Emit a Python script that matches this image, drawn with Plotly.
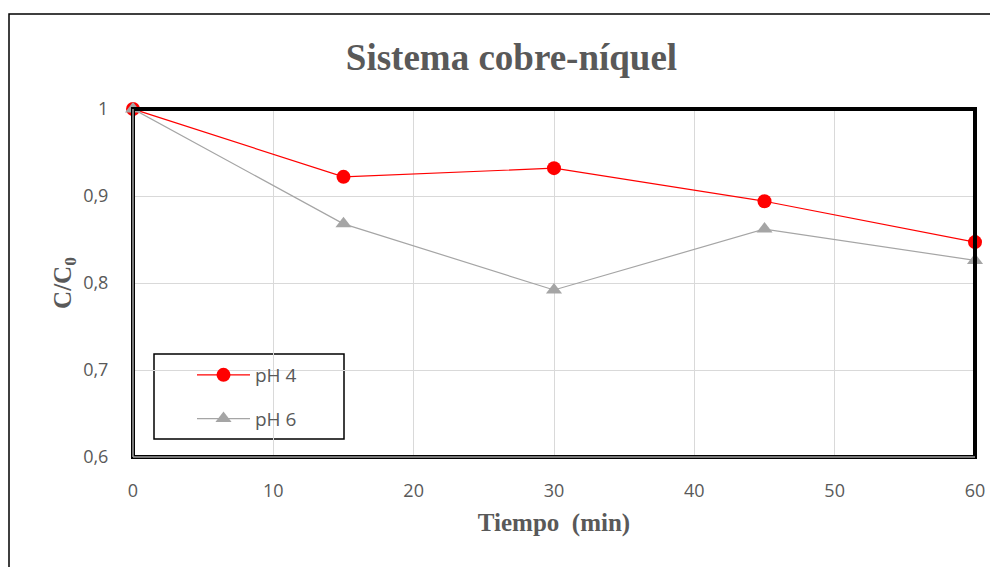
import plotly.graph_objects as go

time_min = [0, 15, 30, 45, 60]
ph4_values = [1.0, 0.922, 0.932, 0.894, 0.847]
ph6_values = [1.0, 0.868, 0.792, 0.862, 0.826]
series_names = ["pH 4", "pH 6"]
x_ticks = [0, 10, 20, 30, 40, 50, 60]
y_ticks = [0.6, 0.7, 0.8, 0.9, 1.0]
y_tick_labels = ["0,6", "0,7", "0,8", "0,9", "1"]

GREY_TXT = "#595959"
SANS = "Open Sans, Liberation Sans, sans-serif"
TICK_FONT = dict(family=SANS, size=18, color=GREY_TXT)
SERIF_B = dict(family="Liberation Serif, Times New Roman, serif", color=GREY_TXT)

# page body has an 8px margin: figure drawn 8px smaller and offset
W, H = 990, 559
ML, MT, PW, PH = 125, 101, 842, 348

fig = go.Figure()
fig.add_trace(go.Scatter(
    x=time_min, y=ph4_values, name=series_names[0], mode="lines+markers",
    line=dict(color="#ff0000", width=1.2),
    marker=dict(symbol="circle", size=14, color="#ff0000"),
    legendgroup="a", cliponaxis=False,
))
fig.add_trace(go.Scatter(
    x=time_min, y=ph6_values, name=series_names[1], mode="lines+markers",
    line=dict(color="#a5a5a5", width=1.2),
    marker=dict(symbol="triangle-up", size=14, color="#a5a5a5"),
    legendgroup="b", cliponaxis=False,
))

fig.update_layout(
    width=W, height=H,
    margin=dict(l=ML, r=W - ML - PW, t=MT, b=H - MT - PH),
    paper_bgcolor="white", plot_bgcolor="white",
    title=dict(text="<b>Sistema cobre-níquel</b>", x=503.5 / W, xanchor="center",
               y=1 - 49 / H, yanchor="middle", font=dict(size=37, **SERIF_B)),
    xaxis=dict(range=[0, 60], tickvals=x_ticks, ticktext=[str(v) for v in x_ticks],
               tickfont=TICK_FONT, showgrid=True, gridcolor="#d9d9d9", gridwidth=1,
               zeroline=False, showline=False, ticks="outside", ticklen=17,
               tickcolor="rgba(0,0,0,0)",
               title=dict(text="<b>Tiempo  (min)</b>", font=dict(size=25, **SERIF_B), standoff=12)),
    yaxis=dict(range=[0.6, 1.0], tickvals=y_ticks, ticktext=y_tick_labels,
               tickfont=TICK_FONT, showgrid=True, gridcolor="#d9d9d9", gridwidth=1,
               zeroline=False, showline=False, ticks="outside", ticklen=20,
               tickcolor="rgba(0,0,0,0)",
               title=dict(text="<b>C/C<sub>0</sub></b>", font=dict(size=25, **SERIF_B), standoff=4)),
    legend=dict(x=(192 - 133) / PW, y=(457 - 356) / PH, xanchor="left", yanchor="top",
                borderwidth=0, bgcolor="rgba(0,0,0,0)",
                font=dict(family=SANS, size=19, color=GREY_TXT),
                traceorder="grouped", tracegroupgap=16, itemwidth=53),
    showlegend=True,
)

# legend frame
fig.add_shape(type="rect", xref="paper", yref="paper",
              x0=(154 - 133) / PW, x1=(344 - 133) / PW,
              y0=(457 - 439) / PH, y1=(457 - 354) / PH,
              line=dict(color="black", width=1.5), fillcolor="white", layer="below")
# plot area border: black frame + grey inner axis lines
fig.add_shape(type="rect", xref="paper", yref="paper", x0=0, y0=0, x1=1, y1=1,
              line=dict(color="black", width=4), layer="above")
fig.add_shape(type="line", xref="paper", yref="paper", x0=0, y0=0, x1=0, y1=1,
              line=dict(color="#a0a0a0", width=1.5), layer="above")
fig.add_shape(type="line", xref="paper", yref="paper", x0=0, y0=0, x1=1, y1=0,
              line=dict(color="#a0a0a0", width=1.5), layer="above")
# outer chart border
fig.add_shape(type="rect", xref="paper", yref="paper",
              x0=(9 - 133) / PW, y0=-0.6, x1=1.2, y1=(457 - 14) / PH,
              line=dict(color="black", width=1.5), layer="below")

fig.write_html("out.html")
